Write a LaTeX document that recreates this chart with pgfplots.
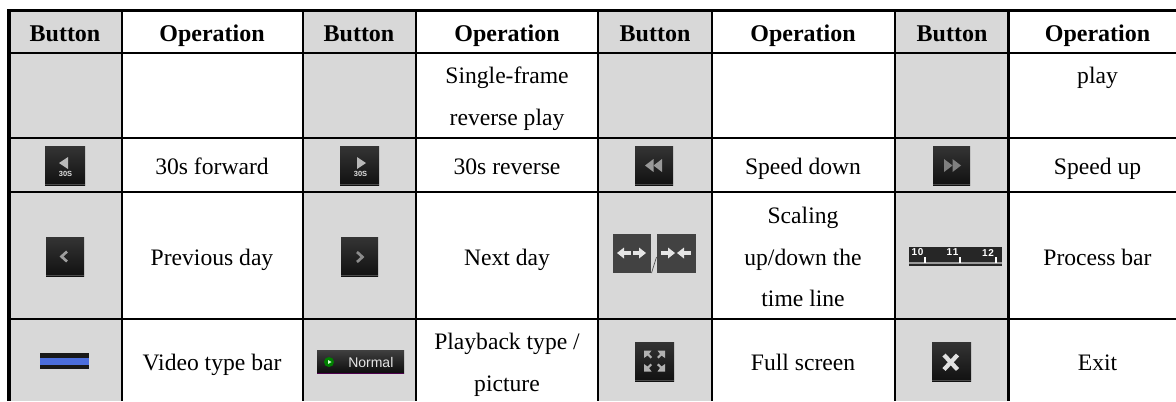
\documentclass[border=0pt]{standalone}
\usepackage{pgfplots}
\pgfplotsset{compat=1.18}
\usepackage{fontspec}
\setmainfont{Liberation Serif}
\newfontfamily\sansf{Liberation Sans}
\definecolor{cellgrey}{HTML}{D8D8D8}
\definecolor{icontop}{HTML}{343434}
\definecolor{iconbot}{HTML}{111111}
\definecolor{vblue}{HTML}{4C6EDC}
\newcommand{\cell}[4]{\fill[cellgrey] (axis cs:#1,#3) rectangle (axis cs:#2,#4);}
\newcommand{\HL}[2]{\fill[black] (axis cs:7,#1) rectangle (axis cs:1176,#2);}
\newcommand{\VL}[2]{\fill[black] (axis cs:#1,9) rectangle (axis cs:#2,401);}
\newcommand{\icon}[4]{\shade[top color=icontop,bottom color=iconbot] (axis cs:#1,#3) rectangle (axis cs:#2,#4);
  \fill[black!70] (axis cs:#1,#4-1.5) rectangle (axis cs:#2,#4);}
\newcommand{\T}[3][\rmfamily]{\node[font=\fontsize{17.7}{20}\selectfont#1,anchor=base,inner sep=0pt] at (axis cs:#2) {#3};}
\newcommand{\B}[1]{\node[font=\fontsize{18}{20}\selectfont\bfseries,anchor=base,inner sep=0pt] at (axis cs:#1,41) {\ifdim#1pt<300pt Button\else\fi};}
\newcommand{\HB}[2]{\node[font=\fontsize{18}{20}\selectfont\bfseries,anchor=base,inner sep=0pt] at (axis cs:#1,41) {#2};}
\newcommand{\R}[2]{\node[font=\fontsize{7.5}{8}\sansf\bfseries,white,inner sep=0pt] at (axis cs:#1,252.5) {#2};}
\begin{document}
\begin{tikzpicture}
\begin{axis}[scale only axis,width=882pt,height=300.75pt,xmin=0,xmax=1176,ymin=0,ymax=401,y dir=reverse,axis lines=none,clip=false]
\addplot[draw=none,forget plot] coordinates {(0,0) (1176,401)};
% grey columns
\cell{8}{122}{11}{401}\cell{303}{416}{11}{401}\cell{598}{712}{11}{401}\cell{895}{1009}{11}{401}
% grid
\HL{9}{12}\HL{52.2}{54.4}\HL{136.6}{138.8}\HL{190.9}{193.1}\HL{317.7}{319.9}
\VL{7.3}{10.5}\VL{121}{123.2}\VL{302}{304.2}\VL{415}{417.2}\VL{597}{599.2}\VL{711}{713.2}\VL{894}{896.2}\VL{1007.3}{1010}
% header
\HB{65}{Button}\HB{212}{Operation}\HB{359}{Button}\HB{507}{Operation}\HB{655}{Button}\HB{803}{Operation}\HB{952}{Button}\HB{1097.5}{Operation}
% text
\T{507,83}{Single-frame}
\T{507,125}{reverse play}
\T{1097.5,83}{play}
\T{212,174}{30s forward}
\T{507,174}{30s reverse}
\T{803,174}{Speed down}
\T{1097.5,174}{Speed up}
\T{212,265}{Previous day}
\T{507,265}{Next day}
\T{803,223}{Scaling}
\T{803,265}{up/down the}
\T{803,306}{time line}
\T{1097.5,265}{Process bar}
\T{212,370}{Video type bar}
\T{507,349}{Playback type /}
\T{507,391}{picture}
\T{803,370}{Full screen}
\T{1097.5,370}{Exit}
% icons
\icon{45}{85}{146}{185}
\fill[black!28] (axis cs:68,157) -- (axis cs:59,163) -- (axis cs:68,169) -- cycle;
\node[font=\fontsize{5.6}{6}\sansf\bfseries,black!12,inner sep=0pt] at (axis cs:65.5,174) {30S};
\icon{340}{379}{146}{185}
\fill[black!28] (axis cs:357,157) -- (axis cs:366,163) -- (axis cs:357,169) -- cycle;
\node[font=\fontsize{5.6}{6}\sansf\bfseries,black!12,inner sep=0pt] at (axis cs:360.5,174) {30S};
\icon{635}{673}{146}{185}
\fill[black!40] (axis cs:653.5,159) -- (axis cs:645,165.5) -- (axis cs:653.5,172) -- cycle;
\fill[black!40] (axis cs:662,159) -- (axis cs:653.5,165.5) -- (axis cs:662,172) -- cycle;
\icon{933}{970}{146}{185}
\fill[black!50] (axis cs:944,159) -- (axis cs:952.5,165.5) -- (axis cs:944,172) -- cycle;
\fill[black!50] (axis cs:952.5,159) -- (axis cs:961,165.5) -- (axis cs:952.5,172) -- cycle;
\icon{46}{84}{237}{276}
\draw[black!38,line width=2pt] (axis cs:67,251.5) -- (axis cs:61.5,256.5) -- (axis cs:67,261.5);
\icon{341}{378}{237}{276}
\draw[black!45,line width=2pt] (axis cs:357,252) -- (axis cs:362.5,257) -- (axis cs:357,262);
% scaling icons
\fill[black!74] (axis cs:613,234) rectangle (axis cs:651,273);
\fill[black!74] (axis cs:657,234) rectangle (axis cs:696,273);
\draw[black!10,line width=2.5pt] (axis cs:621,253) -- (axis cs:631,253);
\fill[black!10] (axis cs:617,253) -- (axis cs:624,247.5) -- (axis cs:624,258.5) -- cycle;
\draw[black!10,line width=2.5pt] (axis cs:633,253) -- (axis cs:642,253);
\fill[black!10] (axis cs:646,253) -- (axis cs:639,247.5) -- (axis cs:639,258.5) -- cycle;
\draw[black!10,line width=2.5pt] (axis cs:661,253) -- (axis cs:670,253);
\fill[black!10] (axis cs:675,253) -- (axis cs:668,247.5) -- (axis cs:668,258.5) -- cycle;
\draw[black!10,line width=2.5pt] (axis cs:681,253) -- (axis cs:691,253);
\fill[black!10] (axis cs:677,253) -- (axis cs:684,247.5) -- (axis cs:684,258.5) -- cycle;
\draw[black!70,line width=0.5pt] (axis cs:651.5,273) -- (axis cs:656.5,257);
% ruler
\fill[black!85] (axis cs:909,247) rectangle (axis cs:1002,266);
\fill[black!40] (axis cs:909,261.5) rectangle (axis cs:1002,263.5);
\R{917.5}{1\kern0.6pt 0}
\R{952.5}{1\kern0.6pt 1}
\R{988}{1\kern0.6pt 2}
\foreach \x in {925,960,996}{\edef\tmp{\noexpand\draw[white,line width=0.8pt] (axis cs:\x,257) -- (axis cs:\x,263);}\tmp}
% full screen, exit
\icon{635}{674}{342}{381}
\foreach \sx/\sy in {1/1,-1/1,1/-1,-1/-1}{\edef\tmp{\noexpand\fill[black!30] (axis cs:{654.5+\sx*10.5},{361+\sy*10.5}) -- (axis cs:{654.5+\sx*3},{361+\sy*10.5}) -- (axis cs:{654.5+\sx*5.5},{361+\sy*7}) -- (axis cs:{654.5+\sx*2.5},{361+\sy*4}) -- (axis cs:{654.5+\sx*4},{361+\sy*2.5}) -- (axis cs:{654.5+\sx*7},{361+\sy*5.5}) -- (axis cs:{654.5+\sx*10.5},{361+\sy*3}) -- cycle;}\tmp}
\icon{932}{971}{342}{381}
\draw[black!12,line width=3.2pt] (axis cs:944,355) -- (axis cs:957.5,369.5);
\draw[black!12,line width=3.2pt] (axis cs:957.5,355) -- (axis cs:944,369.5);
% video bar
\fill[black!90] (axis cs:40,353) rectangle (axis cs:89,369);
\fill[vblue] (axis cs:40,358) rectangle (axis cs:89,365);
% normal
\shade[top color=black!75,bottom color=black!95] (axis cs:317,350) rectangle (axis cs:404,373);
\fill[violet!60!black] (axis cs:317,372.5) rectangle (axis cs:404,373.2);
\fill[green!50!black] (axis cs:329,362) circle[radius=5];
\fill[white!85!green] (axis cs:328,360) -- (axis cs:331.5,362) -- (axis cs:328,364) -- cycle;
\node[font=\fontsize{10.5}{11}\sansf,black!10,anchor=west,inner sep=0pt] at (axis cs:348,362) {Normal};
\end{axis}
\end{tikzpicture}
\end{document}
